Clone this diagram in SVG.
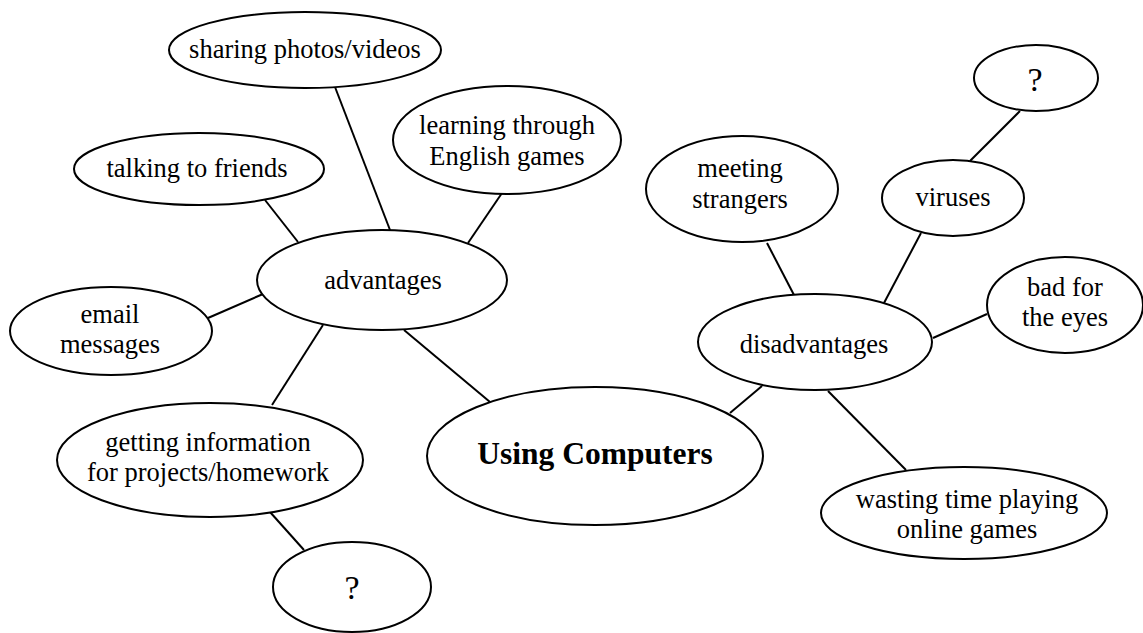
<svg xmlns="http://www.w3.org/2000/svg" width="1143" height="633" viewBox="0 0 1143 633">
<style>
.bg{fill:#ffffff}
.n ellipse{fill:#ffffff;stroke:#000000;stroke-width:2}
.n text{font-family:"Liberation Serif","Times New Roman",serif;font-size:26.5px;fill:#000000;text-anchor:middle}
.n text.q{font-size:34px}
.n text.b{font-size:31.5px;font-weight:bold}
#connectors line{stroke:#000000;stroke-width:2}
</style>
<rect class="bg" x="0" y="0" width="1143" height="633"/>
<g id="connectors">
<line x1="335" y1="87" x2="390" y2="230"/>
<line x1="502" y1="193" x2="468" y2="243"/>
<line x1="265" y1="200" x2="298" y2="242"/>
<line x1="208" y1="318" x2="263" y2="294"/>
<line x1="323" y1="325" x2="272" y2="405"/>
<line x1="404" y1="330" x2="490" y2="402"/>
<line x1="270" y1="512" x2="304" y2="550"/>
<line x1="730" y1="413" x2="762" y2="386"/>
<line x1="767" y1="243" x2="794" y2="295"/>
<line x1="921" y1="233" x2="884" y2="303"/>
<line x1="1020" y1="111" x2="970" y2="161"/>
<line x1="987" y1="314" x2="933" y2="338"/>
<line x1="828" y1="391" x2="906" y2="470"/>
</g>
<g id="sharing" class="n"><ellipse cx="305" cy="50" rx="136" ry="38"/><text x="305" y="58">sharing photos/videos</text></g>
<g id="learning" class="n"><ellipse cx="507" cy="140" rx="114" ry="54"/><text x="507" y="134">learning through</text><text x="507" y="165">English games</text></g>
<g id="talking" class="n"><ellipse cx="199" cy="169" rx="125" ry="36"/><text x="197" y="177">talking to friends</text></g>
<g id="advantages" class="n"><ellipse cx="382" cy="280" rx="125" ry="50"/><text x="383" y="289">advantages</text></g>
<g id="email" class="n"><ellipse cx="111" cy="331" rx="101" ry="44"/><text x="110" y="323">email</text><text x="110" y="353">messages</text></g>
<g id="getting" class="n"><ellipse cx="210" cy="460" rx="153" ry="57"/><text x="208" y="451">getting information</text><text x="208" y="481">for projects/homework</text></g>
<g id="q1" class="n"><ellipse cx="352" cy="587" rx="79" ry="45"/><text class="q" x="352" y="599">?</text></g>
<g id="using" class="n"><ellipse cx="595" cy="456" rx="168" ry="69"/><text class="b" x="595" y="464">Using Computers</text></g>
<g id="disadvantages" class="n"><ellipse cx="815" cy="342" rx="117" ry="48"/><text x="814" y="353">disadvantages</text></g>
<g id="meeting" class="n"><ellipse cx="742" cy="189" rx="96" ry="53"/><text x="740" y="177">meeting</text><text x="740" y="208">strangers</text></g>
<g id="viruses" class="n"><ellipse cx="953" cy="198" rx="71" ry="38"/><text x="953" y="206">viruses</text></g>
<g id="q2" class="n"><ellipse cx="1036" cy="78" rx="62" ry="33"/><text class="q" x="1035" y="91">?</text></g>
<g id="bad" class="n"><ellipse cx="1065" cy="305" rx="78" ry="48"/><text x="1065" y="296">bad for</text><text x="1065" y="326">the eyes</text></g>
<g id="wasting" class="n"><ellipse cx="964" cy="513" rx="143" ry="46"/><text x="967" y="508">wasting time playing</text><text x="967" y="538">online games</text></g>
</svg>
